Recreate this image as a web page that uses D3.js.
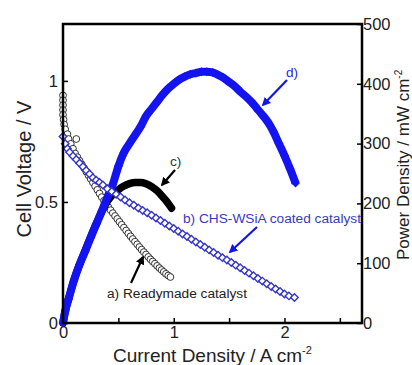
<!DOCTYPE html>
<html>
<head>
<meta charset="utf-8">
<script src="https://cdn.jsdelivr.net/npm/d3@7"></script>
<style>
  body { margin: 0; background: #fff; }
  text { font-family: "Liberation Sans", Arial, sans-serif; }
</style>
</head>
<body>
<div id="chart"></div>
<script>
// a) readymade catalyst, cell voltage (open circles)
const aI = [0, 0, 0, 0, 0, 0.005, 0.01, 0.02, 0.04, 0.12, 0.05, 0.07, 0.09, 0.11, 0.13, 0.15, 0.17, 0.19,
  0.21, 0.23, 0.25, 0.27, 0.29, 0.31, 0.33, 0.35, 0.37, 0.39, 0.41, 0.43, 0.45, 0.47, 0.49, 0.51,
  0.53, 0.55, 0.57, 0.59, 0.61, 0.63, 0.65, 0.67, 0.69, 0.71, 0.73, 0.75, 0.77, 0.79, 0.81, 0.83,
  0.85, 0.87, 0.89, 0.91, 0.93, 0.95, 0.97];
const aV = [0.94, 0.92, 0.90, 0.88, 0.86, 0.84, 0.82, 0.80, 0.78, 0.76, 0.76, 0.74, 0.72, 0.70, 0.685, 0.67, 0.655, 0.64,
  0.625, 0.61, 0.595, 0.58, 0.565, 0.55, 0.535, 0.52, 0.505, 0.49, 0.478, 0.466, 0.454, 0.442, 0.43, 0.418,
  0.406, 0.394, 0.382, 0.37, 0.358, 0.347, 0.336, 0.325, 0.314, 0.303, 0.293, 0.283, 0.273, 0.263, 0.254, 0.245,
  0.236, 0.227, 0.219, 0.211, 0.203, 0.196, 0.19];

// b) CHS-WSiA coated catalyst, cell voltage (open diamonds)
const bI = [0, 0.02, 0.04, 0.06, 0.09, 0.12, 0.15, 0.18, 0.21, 0.24, 0.27, 0.30, 0.33, 0.36, 0.40, 0.44, 0.48,
  0.52, 0.56, 0.60, 0.64, 0.68, 0.72, 0.76, 0.80, 0.84, 0.88, 0.92, 0.96, 1.00, 1.04, 1.08, 1.12, 1.16,
  1.20, 1.24, 1.28, 1.32, 1.36, 1.40, 1.44, 1.48, 1.52, 1.56, 1.60, 1.64, 1.68, 1.72, 1.76, 1.80, 1.84,
  1.88, 1.92, 1.96, 2.00, 2.04, 2.09];
const bV = [0.77, 0.74, 0.72, 0.705, 0.69, 0.675, 0.66, 0.645, 0.63, 0.615, 0.60, 0.59, 0.58, 0.57, 0.555, 0.543, 0.532,
  0.52, 0.508, 0.497, 0.486, 0.475, 0.465, 0.455, 0.445, 0.434, 0.423, 0.412, 0.401, 0.39, 0.379, 0.368, 0.357, 0.346,
  0.335, 0.324, 0.313, 0.302, 0.291, 0.28, 0.27, 0.26, 0.25, 0.239, 0.228, 0.217, 0.206, 0.195, 0.184, 0.173, 0.162,
  0.151, 0.14, 0.13, 0.12, 0.112, 0.105];

// c) readymade catalyst, power density (filled black)
const cI = [0, 0.02, 0.05, 0.1, 0.15, 0.2, 0.25, 0.3, 0.35, 0.4, 0.45, 0.5, 0.55, 0.6, 0.65, 0.7, 0.75, 0.8,
  0.85, 0.9, 0.95, 0.98];
const cP = [0, 20, 40, 72, 98, 121, 144, 166, 186, 203, 215, 223, 229, 233, 235, 235, 233, 228,
  221, 211, 200, 192];

// d) CHS-WSiA coated catalyst, power density (filled blue diamonds)
const dI = [0, 0.02, 0.05, 0.1, 0.15, 0.2, 0.25, 0.3, 0.35, 0.4, 0.45, 0.5, 0.55, 0.6, 0.65, 0.7, 0.75, 0.8,
  0.85, 0.9, 0.95, 1.0, 1.05, 1.1, 1.15, 1.2, 1.25, 1.3, 1.35, 1.4, 1.45, 1.5, 1.55, 1.6, 1.65, 1.7,
  1.75, 1.8, 1.85, 1.9, 1.95, 2.0, 2.05, 2.1];
const dP = [0, 20, 40, 72, 98, 120, 143, 165, 187, 210, 232, 262, 285, 300, 314, 328, 346, 358,
  370, 382, 392, 400, 407, 412, 416, 418, 420, 420, 419, 415, 410, 403, 396, 387, 379, 370,
  359, 348, 336, 320, 300, 280, 258, 234];

const xTicks = [0, 0.5, 1, 1.5, 2, 2.5];
const xLabels = [0, 1, 2];
const vTicks = [0, 0.5, 1];
const pTicks = [0, 100, 200, 300, 400, 500];

const W = 412, H = 365;
const svg = d3.select('#chart').append('svg').attr('width', W).attr('height', H);

const x = d3.scaleLinear().domain([0, 2.7]).range([63, 362]);
const yV = d3.scaleLinear().domain([0, 1.235]).range([323, 24]);
const yP = d3.scaleLinear().domain([0, 500]).range([323, 24]);

const blue = '#1414f0';
const blueOpen = '#3535c8';

// axes
const fmtX = (d) => (xLabels.includes(d) ? d3.format('d')(d) : '');
svg.append('g')
  .attr('transform', 'translate(0,323)')
  .call(d3.axisBottom(x).tickValues(xTicks).tickFormat(fmtX).tickSizeInner(-5).tickSizeOuter(0).tickPadding(3))
  .call((g) => g.select('.domain').remove());
svg.append('g')
  .attr('transform', 'translate(63,0)')
  .call(d3.axisLeft(yV).tickValues(vTicks).tickFormat((d) => (d === 0 ? '0' : d === 1 ? '1' : '0.5'))
    .tickSizeInner(-5).tickSizeOuter(0).tickPadding(5))
  .call((g) => g.select('.domain').remove());
svg.append('g')
  .attr('transform', 'translate(362,0)')
  .call(d3.axisRight(yP).tickValues(pTicks).tickSizeInner(-5).tickSizeOuter(0).tickPadding(1))
  .call((g) => g.select('.domain').remove());

svg.selectAll('.tick text').attr('font-size', 16.5).attr('fill', '#222')
  .attr('font-family', '"Liberation Sans", Arial, sans-serif');
svg.selectAll('.tick line').attr('stroke', '#000').attr('stroke-width', 1.5);

const lineP = d3.line().x((d) => x(d[0])).y((d) => yP(d[1])).curve(d3.curveMonotoneX);

const aData = aI.map((v, i) => [v, aV[i]]);
const bData = bI.map((v, i) => [v, bV[i]]);
const cData = cI.map((v, i) => [v, cP[i]]);
const dData = dI.map((v, i) => [v, dP[i]]);

// series a: open circles
svg.append('g').selectAll('circle').data(aData).enter().append('circle')
  .attr('cx', (d) => x(d[0])).attr('cy', (d) => yV(d[1])).attr('r', 3.4)
  .attr('fill', '#fff').attr('stroke', '#333').attr('stroke-width', 1);

// series c: dense black markers drawn as a band
svg.append('path').datum(cData).attr('d', lineP)
  .attr('fill', 'none').attr('stroke', '#000').attr('stroke-width', 7.5).attr('stroke-linecap', 'round');

// series d: dense filled diamonds
svg.append('path').datum(dData).attr('d', lineP)
  .attr('fill', 'none').attr('stroke', blue).attr('stroke-width', 8);
const sq = d3.symbol(d3.symbolSquare, 40);
svg.append('g').selectAll('path').data(dData).enter().append('path')
  .attr('d', sq)
  .attr('transform', (d) => `translate(${x(d[0])},${yP(d[1])}) rotate(45)`)
  .attr('fill', blue);

// series b: open diamonds
const sqOpen = d3.symbol(d3.symbolSquare, 28);
svg.append('g').selectAll('path').data(bData).enter().append('path')
  .attr('d', sqOpen)
  .attr('transform', (d) => `translate(${x(d[0])},${yV(d[1])}) rotate(45)`)
  .attr('fill', '#fff').attr('stroke', blueOpen).attr('stroke-width', 1.4);

// frame
svg.append('rect').attr('x', 63).attr('y', 24).attr('width', 299).attr('height', 299)
  .attr('fill', 'none').attr('stroke', '#000').attr('stroke-width', 2.5);

// arrows
const defs = svg.append('defs');
[['ahBlack', '#000'], ['ahBlue', blue]].forEach(([id, col]) => {
  defs.append('marker').attr('id', id).attr('viewBox', '0 0 10 10')
    .attr('refX', 8).attr('refY', 5).attr('markerWidth', 4).attr('markerHeight', 4)
    .attr('orient', 'auto').attr('markerUnits', 'strokeWidth')
    .append('path').attr('d', 'M0,0 L10,5 L0,10 Z').attr('fill', col);
});
const arrows = [
  { x1: 131, y1: 283, x2: 143, y2: 257, m: 'ahBlack', c: '#000' },
  { x1: 257, y1: 227, x2: 230, y2: 252, m: 'ahBlue', c: blue },
  { x1: 175, y1: 170, x2: 162, y2: 185, m: 'ahBlack', c: '#000' },
  { x1: 287, y1: 80, x2: 263, y2: 105, m: 'ahBlue', c: blue },
];
svg.append('g').selectAll('line').data(arrows).enter().append('line')
  .attr('x1', (d) => d.x1).attr('y1', (d) => d.y1).attr('x2', (d) => d.x2).attr('y2', (d) => d.y2)
  .attr('stroke', (d) => d.c).attr('stroke-width', 2.2).attr('marker-end', (d) => `url(#${d.m})`);

// annotation text
const notes = [
  { t: 'a) Readymade catalyst', x: 107, y: 298, c: '#222' },
  { t: 'b) CHS-WSiA coated catalyst', x: 183, y: 223, c: '#3a3ac0' },
  { t: 'c)', x: 170, y: 166, c: '#333' },
  { t: 'd)', x: 286, y: 77, c: '#2a2ad0' },
];
svg.append('g').selectAll('text').data(notes).enter().append('text')
  .attr('x', (d) => d.x).attr('y', (d) => d.y).attr('fill', (d) => d.c)
  .attr('font-size', 13.7).text((d) => d.t);

// axis titles
const xt = svg.append('text').attr('x', 113).attr('y', 362)
  .attr('font-size', 19).attr('fill', '#222');
xt.append('tspan').text('Current Density / A cm');
xt.append('tspan').attr('dy', -8).attr('font-size', 11).text('-2');

svg.append('text').attr('transform', 'translate(31,169) rotate(-90)').attr('text-anchor', 'middle')
  .attr('font-size', 20).attr('fill', '#222').text('Cell Voltage / V');

const yt = svg.append('text').attr('transform', 'translate(409,260) rotate(-90)')
  .attr('font-size', 17).attr('fill', '#222');
yt.append('tspan').text('Power Density / mW cm');
yt.append('tspan').attr('dy', -7).attr('font-size', 10).text('-2');
</script>
</body>
</html>
